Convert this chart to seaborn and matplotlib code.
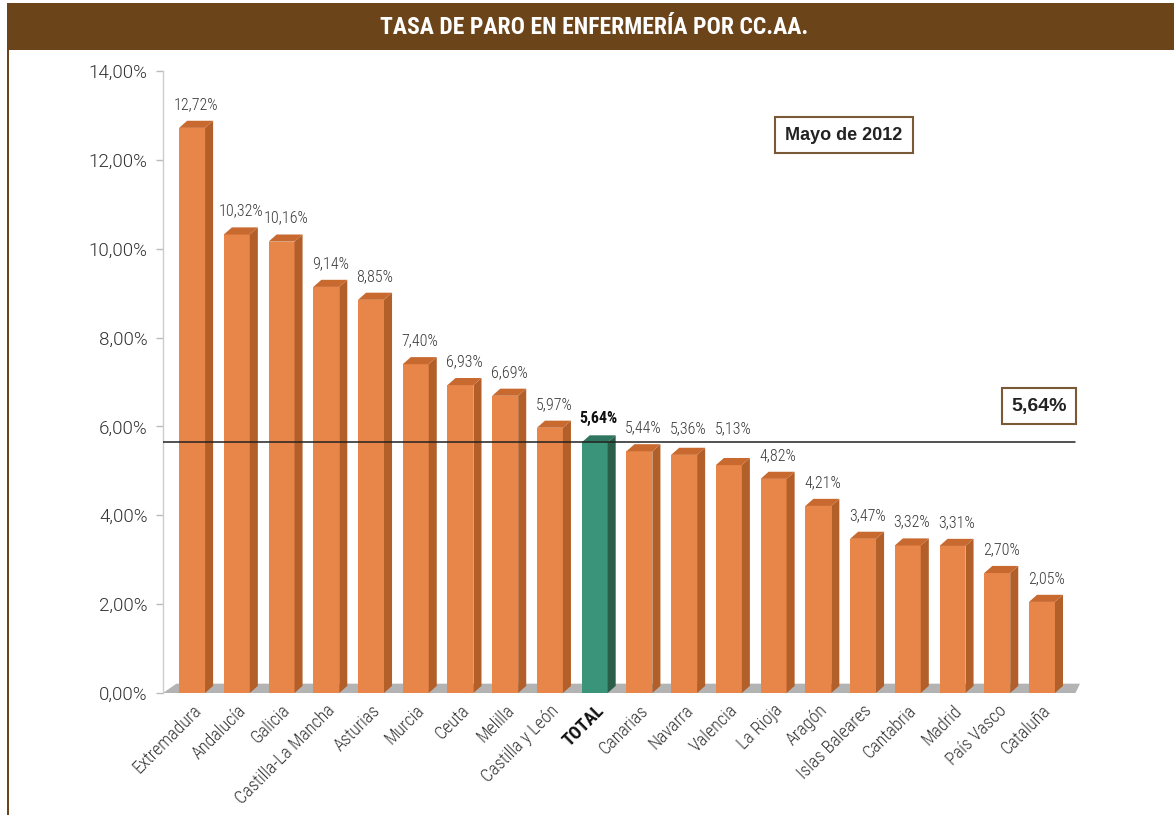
import matplotlib
matplotlib.use("Agg")
import matplotlib.pyplot as plt
import seaborn as sns
import pandas as pd
from matplotlib.patches import Polygon, Rectangle

regions = ["Extremadura", "Andalucía", "Galicia", "Castilla-La Mancha", "Asturias",
           "Murcia", "Ceuta", "Melilla", "Castilla y León", "TOTAL", "Canarias",
           "Navarra", "Valencia", "La Rioja", "Aragón", "Islas Baleares", "Cantabria",
           "Madrid", "País Vasco", "Cataluña"]
rates = [12.72, 10.32, 10.16, 9.14, 8.85, 7.40, 6.93, 6.69, 5.97, 5.64, 5.44,
         5.36, 5.13, 4.82, 4.21, 3.47, 3.32, 3.31, 2.70, 2.05]
total_rate = 5.64
yticks = [0, 2, 4, 6, 8, 10, 12, 14]
title = "TASA DE PARO EN ENFERMERÍA POR CC.AA."
period = "Mayo de 2012"

sns.set_theme(style="white")
COND = ["Roboto Condensed", "DejaVu Sans"]
plt.rcParams['font.family'] = COND

ORANGE = "#E8864A"; ORANGE_SIDE = "#B25F2A"; ORANGE_TOP = "#C8692F"
GREEN = "#3A9479"; GREEN_SIDE = "#2A5E49"; GREEN_TOP = "#2F7560"
BROWN = "#6B4419"

df = pd.DataFrame({"region": regions, "rate": rates})
palette = {r: (GREEN if r == "TOTAL" else ORANGE) for r in regions}

fig = plt.figure(figsize=(11.74, 8.15), dpi=100)
# banner
fig.patches.append(Rectangle((7/1174, 1-50/815), 1-7/1174, 47/815, transform=fig.transFigure,
                             facecolor=BROWN, edgecolor="none", zorder=0))
fig.patches.append(Rectangle((7/1174, 0), 1.5/1174, 1-50/815, transform=fig.transFigure,
                             facecolor=BROWN, edgecolor="none", zorder=0))
fig.text(594/1174, 1-28/815, title, color="white", fontsize=17, fontweight="bold",
         ha="center", va="center", family=COND)

ax = fig.add_axes([163/1174, 1-693/815, (1080-163)/1174, (693-71)/815])
sns.barplot(data=df, x="region", y="rate", hue="region", palette=palette, legend=False,
            width=0.58, saturation=1, ax=ax, zorder=3, linewidth=0)

dx, dy = 0.18, 0.16
ax.set_xlim(-0.65, len(regions) - 1 + 0.85)
ax.set_ylim(0, 14)
x0, x1 = ax.get_xlim()
# floor
ax.add_patch(Polygon([(x0, 0), (x1 - 0.1, 0), (x1, dy + 0.05), (x0 + 0.3, dy + 0.05)],
                     closed=True, facecolor="#B3B3B3", edgecolor="none", zorder=1,
                     clip_on=False))

for p, r, v in zip(ax.patches[:len(regions)], regions, rates):
    x, w, h = p.get_x(), p.get_width(), p.get_height()
    is_total = r == "TOTAL"
    side = GREEN_SIDE if is_total else ORANGE_SIDE
    top = GREEN_TOP if is_total else ORANGE_TOP
    ax.add_patch(Polygon([(x + w, 0), (x + w + dx, dy), (x + w + dx, h + dy), (x + w, h)],
                         closed=True, facecolor=side, edgecolor="none", zorder=3))
    ax.add_patch(Polygon([(x, h), (x + dx, h + dy), (x + w + dx, h + dy), (x + w, h)],
                         closed=True, facecolor=top, edgecolor="none", zorder=3))
    lbl = f"{v:.2f}%".replace(".", ",")
    ly = h + dy + 0.2
    if not is_total and ly < total_rate + 0.1 and ly + 0.35 > total_rate:
        ly = total_rate + 0.14
    ax.text(x + w / 2 + dx / 2, ly, lbl, ha="center", va="bottom",
            fontsize=11.5, color="#111111" if is_total else "#3a3a3a",
            fontweight="bold" if is_total else 300, zorder=5, family=COND)

ax.axhline(total_rate, color="#222222", lw=1.1, zorder=4, xmax=0.995)

ax.set_yticks(yticks)
ax.set_yticklabels([f"{t:.2f}%".replace(".", ",") for t in yticks], fontsize=13.5,
                   color="#333333", family=["Roboto", "DejaVu Sans"], fontweight=300)
ax.tick_params(axis="y", length=5, color="#BBBBBB", width=1, pad=6, left=True)
ax.set_xticks(range(len(regions)))
ax.set_xticklabels(regions, rotation=45, ha="right", rotation_mode="anchor",
                   fontsize=13, color="#333333", fontweight=300)
for t in ax.get_xticklabels():
    if t.get_text() == "TOTAL":
        t.set_fontweight("bold"); t.set_color("#111111")
ax.tick_params(axis="x", length=0, pad=6)
ax.set_xlabel(""); ax.set_ylabel("")
for s in ["top", "right", "bottom"]:
    ax.spines[s].set_visible(False)
ax.spines["left"].set_color("#CCCCCC")
ax.spines["left"].set_linewidth(1)

# boxes
BOXF = ["Liberation Sans", "DejaVu Sans"]
fig.text(844/1174, 1-135/815, period, ha="center", va="center", fontsize=13, fontweight="bold",
         color="#222222", family=BOXF,
         bbox=dict(boxstyle="square,pad=0.55", facecolor="white", edgecolor="#7A5A36", linewidth=1.5))
fig.text(1039/1174, 1-406/815, "5,64%", ha="center", va="center", fontsize=14, fontweight="bold",
         color="#222222", family=BOXF,
         bbox=dict(boxstyle="square,pad=0.5", facecolor="white", edgecolor="#7A5A36", linewidth=1.5))

fig.savefig("out.png", dpi=100)
